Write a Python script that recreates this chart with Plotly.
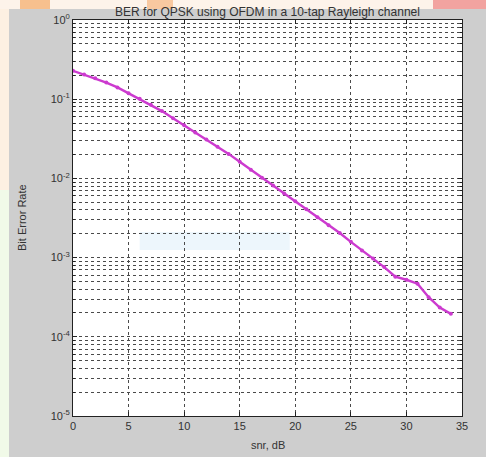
import plotly.graph_objects as go

# ---- data ----
snr_db = list(range(0, 35))
ber = [0.228, 0.205, 0.184, 0.162, 0.141, 0.119, 0.101, 0.0851, 0.0708, 0.0575,
       0.0468, 0.0380, 0.0309, 0.0251, 0.0204, 0.0162, 0.0129, 0.0102, 0.00813, 0.00646,
       0.00513, 0.00407, 0.00324, 0.00257, 0.00204, 0.00158, 0.00123, 0.000977, 0.000759, 0.000575,
       0.000525, 0.000468, 0.000316, 0.000234, 0.000195]

x_ticks = [0, 5, 10, 15, 20, 25, 30, 35]
y_exponents = [-5, -4, -3, -2, -1, 0]
y_ticks = [10.0 ** e for e in y_exponents]
y_ticktext = ["10<sup>%d</sup>" % e for e in y_exponents]
minor_y = [m * 10.0 ** e for e in y_exponents[:-1] for m in range(2, 10)]

title = "BER for QPSK using OFDM in a 10-tap Rayleigh channel"
x_title = "snr, dB"
y_title = "Bit Error Rate"

W, H = 486, 457
L, R, T, B = 73, 24, 20, 41
PW, PH = W - L - R, H - T - B


def px(x):
    return (x - L) / PW


def py(y):
    return (H - B - y) / PH


FONT = "Liberation Sans, Arial, sans-serif"
TXT = "#333333"
GRID = "#4a4a4a"

fig = go.Figure()
fig.add_trace(go.Scatter(
    x=snr_db, y=ber, mode="lines+markers",
    line=dict(color="#cc3acf", width=2.4),
    marker=dict(color="#cc3acf", size=4, symbol="circle"),
    showlegend=False,
))

strip = dict(xref="paper", yref="paper", type="rect", line_width=0, layer="below")
fig.update_layout(
    width=W, height=H,
    margin=dict(l=L, r=R, t=T, b=B, autoexpand=False),
    paper_bgcolor="#cecece",
    plot_bgcolor="white",
    font=dict(family=FONT, size=11, color=TXT),
    title=dict(text=title, x=0.5, xref="paper", xanchor="center",
               y=1 - 12 / H, yref="container", yanchor="middle",
               font=dict(family=FONT, size=12, color=TXT)),
    shapes=[
        dict(strip, x0=px(0), x1=px(9), y0=py(190), y1=py(0), fillcolor="#fdf0e2"),
        dict(strip, x0=px(0), x1=px(9), y0=py(H), y1=py(190), fillcolor="#f1fae8"),
        dict(strip, x0=px(0), x1=px(W), y0=py(9), y1=py(0), fillcolor="#fdf3ea"),
        dict(strip, x0=px(20), x1=px(50), y0=py(9), y1=py(0), fillcolor="#f7c08e"),
        dict(strip, x0=px(147), x1=px(173), y0=py(9), y1=py(0), fillcolor="#f8c8a0"),
        dict(strip, x0=px(433), x1=px(W), y0=py(9), y1=py(0), fillcolor="#f2a3a0"),
        # faint blue watermark patch inside the axes
        dict(type="rect", xref="x", yref="y", x0=6, x1=19.5, y0=0.00125, y1=0.0021,
             fillcolor="#edf6fc", line_width=0, layer="below"),
    ],
    annotations=[
        dict(text=x_title, xref="paper", yref="paper", x=0.5, y=py(445),
             xanchor="center", yanchor="middle", showarrow=False,
             font=dict(family=FONT, size=11, color=TXT)),
        dict(text=y_title, xref="paper", yref="paper", x=px(22), y=0.5,
             xanchor="center", yanchor="middle", showarrow=False, textangle=-90,
             font=dict(family=FONT, size=11, color=TXT)),
    ],
)

fig.update_xaxes(
    range=[0, 35], tickvals=x_ticks, ticks="inside", ticklen=4, tickcolor="#222",
    showline=True, linecolor="#222", linewidth=1, mirror="allticks",
    showgrid=True, gridcolor=GRID, griddash="dot", gridwidth=1,
    zeroline=False, automargin=False,
    tickfont=dict(family=FONT, size=11, color=TXT),
)
fig.update_yaxes(
    type="log", range=[-5, 0], tickvals=y_ticks, ticktext=y_ticktext,
    ticks="inside", ticklen=4, tickcolor="#222",
    showline=True, linecolor="#222", linewidth=1, mirror="allticks",
    showgrid=True, gridcolor=GRID, griddash="dot", gridwidth=1,
    minor=dict(tickmode="array", tickvals=minor_y, showgrid=True, gridcolor=GRID,
               griddash="dot", gridwidth=1, ticks="inside", ticklen=2, tickcolor="#222"),
    zeroline=False, automargin=False,
    tickfont=dict(family=FONT, size=11, color=TXT),
)

fig.write_html(
    "out.html",
    config={"displayModeBar": False},
    post_script="document.body.style.margin='0';document.body.style.overflow='hidden';",
)
